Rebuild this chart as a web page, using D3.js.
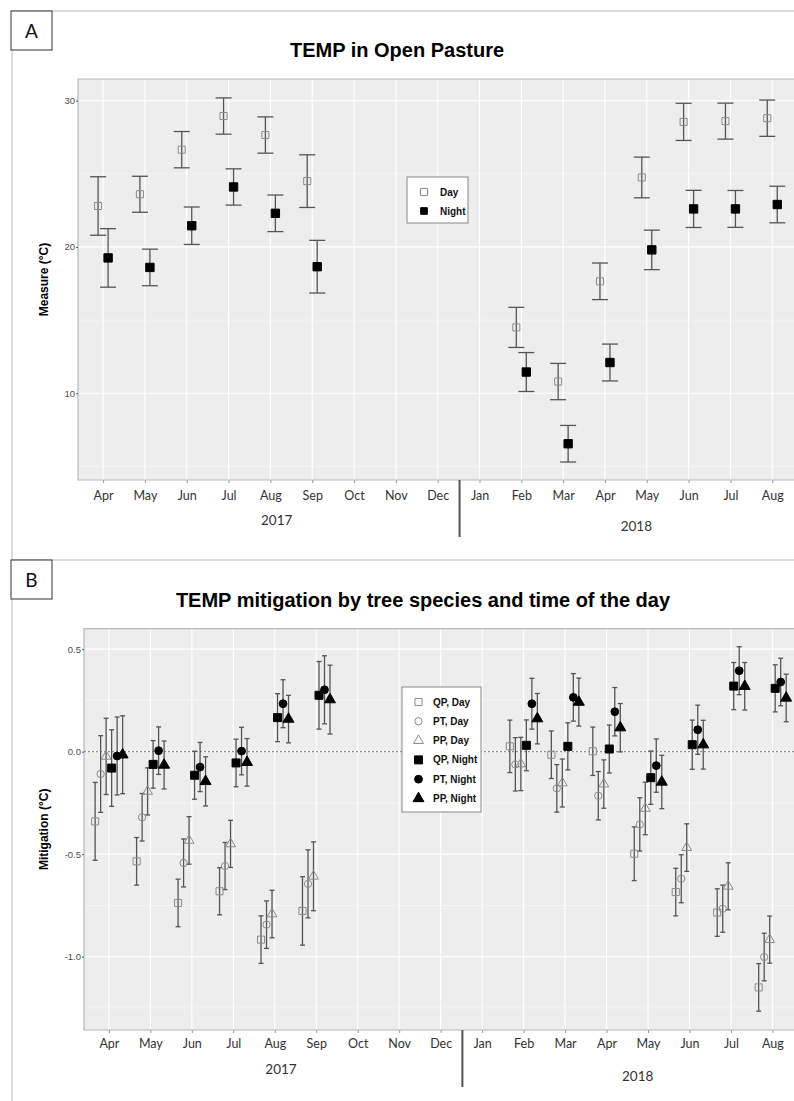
<!DOCTYPE html>
<html lang="en">
  <head>
    <meta charset="UTF-8" />
    <title>TEMP in Open Pasture / TEMP mitigation</title>
    <script src="https://d3js.org/d3.v7.min.js"></script>
    <style>
      body {
        margin: 0;
        background: #fff;
      }
      svg {
        display: block;
        font-family: "Liberation Sans", Arial, sans-serif;
      }
      .title {
        font-size: 20px;
        font-weight: bold;
        fill: #000;
      }
      .ytitle {
        font-size: 12px;
        font-weight: bold;
        fill: #000;
      }
      .month {
        font-family: Lato, "Open Sans", sans-serif;
        font-size: 12.5px;
        fill: #333;
      }
      .year {
        font-family: Lato, "Open Sans", sans-serif;
        font-size: 13.5px;
        fill: #333;
      }
      .legend text {
        font-size: 10px;
        font-weight: bold;
        fill: #111;
      }
      .errbar {
        stroke: #555;
        stroke-width: 1.3;
      }
    </style>
  </head>
  <body>
    <svg width="794" height="1101"></svg>

    <script>
      // x axis: one tick per month, Apr 2017 .. Aug 2018
      const monthLabels = ["Apr", "May", "Jun", "Jul", "Aug", "Sep", "Oct", "Nov", "Dec",
        "Jan", "Feb", "Mar", "Apr", "May", "Jun", "Jul", "Aug"];
      const yearLabels = ["2017", "2018"];

      // months that have measurements (index in monthLabels)
      const dataMonths = [0, 1, 2, 3, 4, 5, 10, 11, 12, 13, 14, 15, 16];

      // Panel A - temperature in open pasture (°C), mean and error
      const dayMean = [22.8, 23.6, 26.65, 28.95, 27.65, 24.5, 14.5, 10.8, 17.65, 24.75, 28.55, 28.6, 28.8];
      const dayErr = [2.0, 1.23, 1.24, 1.24, 1.24, 1.8, 1.37, 1.24, 1.25, 1.39, 1.27, 1.23, 1.24];
      const nightMean = [19.25, 18.6, 21.45, 24.1, 22.3, 18.65, 11.45, 6.55, 12.1, 19.8, 22.6, 22.6, 22.9];
      const nightErr = [2.0, 1.25, 1.28, 1.24, 1.25, 1.8, 1.33, 1.25, 1.26, 1.35, 1.27, 1.26, 1.25];

      // Panel B - mitigation by species (°C)
      const seriesB = ["QP, Day", "PT, Day", "PP, Day", "QP, Night", "PT, Night", "PP, Night"];
      const qpDay = [-0.34, -0.535, -0.738, -0.681, -0.917, -0.777, 0.026, -0.015, 0.002, -0.498, -0.685, -0.785, -1.15];
      const qpDayErr = [0.19, 0.116, 0.116, 0.115, 0.116, 0.167, 0.128, 0.116, 0.118, 0.131, 0.116, 0.116, 0.116];
      const ptDay = [-0.109, -0.32, -0.543, -0.558, -0.844, -0.645, -0.062, -0.179, -0.215, -0.355, -0.62, -0.766, -1.002];
      const ptDayErr = [0.187, 0.116, 0.117, 0.115, 0.116, 0.166, 0.13, 0.116, 0.118, 0.13, 0.117, 0.115, 0.116];
      const ppDay = [-0.023, -0.194, -0.433, -0.45, -0.792, -0.608, -0.06, -0.153, -0.158, -0.277, -0.468, -0.657, -0.917];
      const ppDayErr = [0.186, 0.115, 0.116, 0.115, 0.116, 0.168, 0.13, 0.117, 0.118, 0.128, 0.116, 0.115, 0.115];
      const qpNight = [-0.08, -0.062, -0.115, -0.055, 0.166, 0.275, 0.031, 0.026, 0.013, -0.127, 0.034, 0.32, 0.309];
      const qpNightErr = [0.187, 0.116, 0.117, 0.116, 0.117, 0.165, 0.124, 0.115, 0.117, 0.13, 0.12, 0.115, 0.115];
      const ptNight = [-0.021, 0.005, -0.075, 0.003, 0.234, 0.302, 0.234, 0.265, 0.195, -0.068, 0.107, 0.395, 0.34];
      const ptNightErr = [0.19, 0.116, 0.12, 0.116, 0.117, 0.166, 0.124, 0.116, 0.118, 0.13, 0.12, 0.117, 0.116];
      const ppNight = [-0.015, -0.065, -0.145, -0.052, 0.159, 0.254, 0.161, 0.242, 0.117, -0.148, 0.034, 0.319, 0.262];
      const ppNightErr = [0.19, 0.117, 0.12, 0.116, 0.116, 0.168, 0.123, 0.117, 0.118, 0.13, 0.119, 0.116, 0.116];

      const svg = d3.select("svg");
      const W = 794;

      // outer frame + panel letter box
      function frame(top, letter) {
        svg.append("line").attr("x1", 11).attr("x2", W).attr("y1", top).attr("y2", top)
          .attr("stroke", "#d0d0d0").attr("stroke-width", 1.5);
        svg.append("rect").attr("x", 11).attr("y", top).attr("width", 41).attr("height", 39)
          .attr("fill", "#fff").attr("stroke", "#333").attr("stroke-width", 1);
        svg.append("text").attr("x", 31.5).attr("y", top + 27).attr("text-anchor", "middle")
          .attr("font-family", "Lato, sans-serif").attr("font-size", 19).attr("fill", "#111")
          .text(letter);
      }
      svg.append("line").attr("x1", 12).attr("x2", 12).attr("y1", 11).attr("y2", 1101)
        .attr("stroke", "#d0d0d0").attr("stroke-width", 1.5);
      frame(11, "A");
      frame(560, "B");

      // shared: background, grid, axes, year labels
      function panel(x, y, p) {
        const [x0, x1] = x.range();
        const [y0, y1] = y.range();
        const g = svg.append("g");
        g.append("rect").attr("x", x0).attr("y", y1).attr("width", x1 - x0).attr("height", y0 - y1)
          .attr("fill", "#ededed");
        // minor horizontal grid
        g.selectAll(".minor").data(p.minor).join("line")
          .attr("x1", x0).attr("x2", x1).attr("y1", (d) => y(d)).attr("y2", (d) => y(d))
          .attr("stroke", "#f6f6f6").attr("stroke-width", 0.8);
        g.selectAll(".major").data(p.major).join("line")
          .attr("x1", x0).attr("x2", x1).attr("y1", (d) => y(d)).attr("y2", (d) => y(d))
          .attr("stroke", "#fff").attr("stroke-width", 1.2);
        g.selectAll(".vgrid").data(d3.range(monthLabels.length)).join("line")
          .attr("x1", (d) => x(d)).attr("x2", (d) => x(d)).attr("y1", y1).attr("y2", y0)
          .attr("stroke", "#fff").attr("stroke-width", 1.2);
        // panel border
        g.append("path")
          .attr("d", `M${x1},${y1}H${x0}V${y0}H${x1}`)
          .attr("fill", "none").attr("stroke", "#b8b8b8").attr("stroke-width", 1.2);

        const yAxis = g.append("g").attr("transform", `translate(${x0},0)`)
          .call(d3.axisLeft(y).tickValues(p.major).tickSize(2).tickPadding(1).tickFormat(p.fmt));
        yAxis.select(".domain").remove();
        yAxis.selectAll("line").attr("stroke", "#555");
        yAxis.selectAll("text").attr("font-size", 9.5).attr("fill", "#4d4d4d")
          .attr("font-family", "Liberation Sans, Arial, sans-serif");

        const xAxis = g.append("g").attr("transform", `translate(0,${y0})`)
          .call(d3.axisBottom(x).tickValues(d3.range(monthLabels.length)).tickSize(3)
            .tickPadding(p.pad).tickFormat((i) => monthLabels[i]));
        xAxis.select(".domain").remove();
        xAxis.selectAll("line").attr("stroke", "#999");
        xAxis.selectAll("text").attr("class", "month").attr("font-size", null).attr("font-family", null);

        // year separator between Dec and Jan
        const sep = (x(8) + x(9)) / 2 + 1;
        g.append("line").attr("x1", sep).attr("x2", sep).attr("y1", y0).attr("y2", y0 + 57)
          .attr("stroke", "#555").attr("stroke-width", 2);
        g.append("text").attr("class", "year").attr("text-anchor", "middle")
          .attr("x", x(4.15)).attr("y", y0 + p.yearY[0]).text(yearLabels[0]);
        g.append("text").attr("class", "year").attr("text-anchor", "middle")
          .attr("x", x(12.75)).attr("y", y0 + p.yearY[1]).text(yearLabels[1]);

        svg.append("text").attr("class", "title").attr("text-anchor", "middle")
          .attr("x", p.titleX).attr("y", p.titleY).text(p.title);
        svg.append("text").attr("class", "ytitle").attr("text-anchor", "middle")
          .attr("transform", `translate(48,${(y0 + y1) / 2}) rotate(-90)`).text(p.ytitle);
        return g;
      }

      function errorBars(g, x, y, means, errs, dx, cap) {
        const rows = dataMonths.map((m, i) => ({ m, v: means[i], e: errs[i] }));
        const eb = g.append("g").attr("class", "errbar");
        eb.selectAll(".v").data(rows).join("line")
          .attr("x1", (d) => x(d.m) + dx).attr("x2", (d) => x(d.m) + dx)
          .attr("y1", (d) => y(d.v + d.e)).attr("y2", (d) => y(d.v - d.e));
        eb.selectAll(".t").data(rows).join("line")
          .attr("x1", (d) => x(d.m) + dx - cap).attr("x2", (d) => x(d.m) + dx + cap)
          .attr("y1", (d) => y(d.v + d.e)).attr("y2", (d) => y(d.v + d.e));
        eb.selectAll(".b").data(rows).join("line")
          .attr("x1", (d) => x(d.m) + dx - cap).attr("x2", (d) => x(d.m) + dx + cap)
          .attr("y1", (d) => y(d.v - d.e)).attr("y2", (d) => y(d.v - d.e));
        return rows;
      }

      function markers(g, x, y, rows, dx, shape) {
        g.selectAll(null).data(rows).join("path")
          .attr("transform", (d) => `translate(${x(d.m) + dx},${y(d.v)})`)
          .attr("d", d3.symbol(shape.type, shape.size))
          .attr("fill", shape.fill).attr("stroke", shape.stroke).attr("stroke-width", 1);
      }

      function legend(x, y, w, h, items, step, symX, txtX) {
        const lg = svg.append("g").attr("class", "legend");
        lg.append("rect").attr("x", x).attr("y", y).attr("width", w).attr("height", h)
          .attr("fill", "#fff").attr("stroke", "#888").attr("stroke-width", 1);
        items.forEach((it, i) => {
          const cy = y + 15 + i * step;
          lg.append("path").attr("transform", `translate(${x + symX},${cy})`)
            .attr("d", d3.symbol(it.shape.type, it.shape.size))
            .attr("fill", it.shape.fill).attr("stroke", it.shape.stroke);
          lg.append("text").attr("x", x + txtX).attr("y", cy).attr("dy", "0.35em").text(it.label);
        });
      }

      const openSq = { type: d3.symbolSquare, size: 50, fill: "none", stroke: "#8a8a8a" };
      const openCi = { type: d3.symbolCircle, size: 42, fill: "none", stroke: "#8a8a8a" };
      const openTr = { type: d3.symbolTriangle, size: 42, fill: "none", stroke: "#8a8a8a" };
      const fullSq = { type: d3.symbolSquare, size: 64, fill: "#000", stroke: "#000" };
      const fullCi = { type: d3.symbolCircle, size: 48, fill: "#000", stroke: "#000" };
      const fullTr = { type: d3.symbolTriangle, size: 52, fill: "#000", stroke: "#000" };

      // ---------- Panel A ----------
      const xA = d3.scaleLinear().domain([-0.6, 16.52]).range([78, W]);
      const yA = d3.scaleLinear().domain([4.07, 31.48]).range([480, 79]);
      const gA = panel(xA, yA, {
        major: [10, 20, 30], minor: [5, 15, 25], fmt: d3.format("d"), pad: 8,
        yearY: [45, 50.5], title: "TEMP in Open Pasture", titleX: 397, titleY: 57,
        ytitle: "Measure (°C)",
      });
      const dayRows = errorBars(gA, xA, yA, dayMean, dayErr, -5, 8);
      const nightRows = errorBars(gA, xA, yA, nightMean, nightErr, 5, 8);
      markers(gA, xA, yA, dayRows, -5, openSq);
      markers(gA, xA, yA, nightRows, 5, { ...fullSq, size: 70 });
      legend(407, 177, 61, 46, [
        { label: "Day", shape: openSq },
        { label: "Night", shape: { ...fullSq, size: 44 } },
      ], 19, 17, 33);

      // ---------- Panel B ----------
      const xB = d3.scaleLinear().domain([-0.6, 16.52]).range([84, W]);
      const yB = d3.scaleLinear().domain([-1.358, 0.6]).range([1030, 628.7]);
      const gB = panel(xB, yB, {
        major: [0.5, 0, -0.5, -1.0], minor: [0.25, -0.25, -0.75, -1.25],
        fmt: (d) => d.toFixed(1), pad: 6, yearY: [44, 50.5],
        title: "TEMP mitigation by tree species and time of the day", titleX: 423, titleY: 606.5,
        ytitle: "Mitigation (°C)",
      });
      // dotted zero line
      gB.append("line").attr("x1", 84).attr("x2", W).attr("y1", yB(0)).attr("y2", yB(0))
        .attr("stroke", "#777").attr("stroke-width", 1).attr("stroke-dasharray", "2,2");

      const meansB = [qpDay, ptDay, ppDay, qpNight, ptNight, ppNight];
      const errsB = [qpDayErr, ptDayErr, ppDayErr, qpNightErr, ptNightErr, ppNightErr];
      const shapesB = [openSq, openCi, openTr, fullSq, fullCi, fullTr];
      const rowsB = meansB.map((m, s) => errorBars(gB, xB, yB, m, errsB[s], (s - 2.5) * 5.5, 2.5));
      rowsB.forEach((rows, s) => markers(gB, xB, yB, rows, (s - 2.5) * 5.5, shapesB[s]));
      legend(402, 687, 79, 125, seriesB.map((label, i) => ({ label, shape: shapesB[i] })), 19.3, 16.5, 31);
    </script>
  </body>
</html>
